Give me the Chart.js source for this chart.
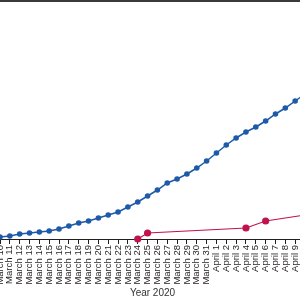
<!DOCTYPE html>
<html>
<head>
<meta charset="utf-8">
<script src="https://cdn.jsdelivr.net/npm/chart.js@4/dist/chart.umd.min.js"></script>
<style>
  html, body { margin: 0; padding: 0; background: #fff; }
  body { width: 300px; height: 300px; overflow: hidden; position: relative; }
  #topRule { position: absolute; left: 0; top: 0; width: 300px; height: 2px; background: #3a3a3a; z-index: 2; }
  #wrap { position: absolute; left: -4px; top: 0; width: 313px; height: 300px; }
</style>
</head>
<body>
<div id="topRule"></div>
<div id="wrap"><canvas id="c"></canvas></div>
<script>
const categories = [
  "March 10","March 11","March 12","March 13","March 14","March 15","March 16","March 17",
  "March 18","March 19","March 20","March 21","March 22","March 23","March 24","March 25",
  "March 26","March 27","March 28","March 29","March 30","March 31","April 1","April 2",
  "April 3","April 4","April 5","April 6","April 7","April 8","April 9","April 10"
];
const blueSeries = [
  2, 3, 5, 6, 7, 8, 10, 13,
  16, 18, 21, 24, 27, 32, 37, 43,
  49, 56, 60, 65, 71, 78, 86, 94,
  101, 107, 112, 118, 125, 131, 138, 145
];
const redSeries = [
  null, null, null, null, null, null, null, null,
  null, null, null, null, null, null, 0, 6,
  null, null, null, null, null, null, null, null,
  null, 11, null, 18, null, null, null, 24
];
const xTitle = "Year 2020";

new Chart(document.getElementById("c"), {
  type: "line",
  data: {
    labels: categories,
    datasets: [
      {
        data: blueSeries,
        borderColor: "#1d5aa8",
        backgroundColor: "#1d5aa8",
        borderWidth: 1.5,
        pointRadius: 2.8,
        pointBorderWidth: 0,
        tension: 0,
        clip: false
      },
      {
        data: redSeries,
        borderColor: "#c1124b",
        backgroundColor: "#c1124b",
        borderWidth: 1.2,
        pointRadius: 3.6,
        pointBorderWidth: 0,
        spanGaps: true,
        tension: 0,
        clip: false
      }
    ]
  },
  options: {
    responsive: true,
    maintainAspectRatio: false,
    animation: false,
    layout: { padding: { top: 9, left: 0, right: 0, bottom: 0 } },
    plugins: { legend: { display: false }, tooltip: { enabled: false } },
    scales: {
      x: {
        offset: false,
        grid: { display: true, drawOnChartArea: false, drawTicks: true, tickLength: 5, color: "#231f20", lineWidth: 1 },
        border: { display: true, color: "#231f20", width: 1 },
        ticks: {
          autoSkip: false, maxRotation: 90, minRotation: 90, padding: 1,
          color: "#231f20", font: { family: "Liberation Sans", size: 9.5 }
        },
        title: {
          display: true, text: xTitle, color: "#333",
          font: { family: "Liberation Sans", size: 10 },
          padding: { top: 0, bottom: 1 }
        },
        afterFit: (scale) => { scale.height = 61; scale.paddingLeft = 0; scale.paddingRight = 0; }
      },
      y: {
        display: false,
        min: 0,
        max: 230
      }
    }
  }
});
</script>
</body>
</html>
